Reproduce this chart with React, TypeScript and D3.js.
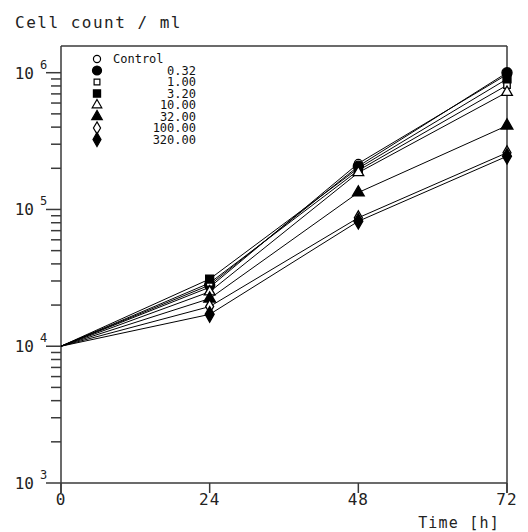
import React from "react";
import * as d3 from "d3";

const times = [0, 24, 48, 72];
const seriesNames = ["Control", "0.32", "1.00", "3.20", "10.00", "32.00", "100.00", "320.00"];
const control = [1e4, 2.7e4, 2.17e5, 9.7e5];
const c032 = [1e4, 2.8e4, 2.07e5, 1.0e6];
const c100 = [1e4, 2.9e4, 1.93e5, 8.1e5];
const c320 = [1e4, 3.1e4, 2.0e5, 9.0e5];
const c1000 = [1e4, 2.5e4, 1.86e5, 7.2e5];
const c3200 = [1e4, 2.23e4, 1.33e5, 4.1e5];
const c10000 = [1e4, 1.95e4, 8.7e4, 2.6e5];
const c32000 = [1e4, 1.71e4, 8.2e4, 2.45e5];
const seriesValues = [control, c032, c100, c320, c1000, c3200, c10000, c32000];
const xTicks = [0, 24, 48, 72];
const yMajor = [1e3, 1e4, 1e5, 1e6];

const markerTypes = [
  { sym: d3.symbolCircle, size: 50, fill: false },
  { sym: d3.symbolCircle, size: 80, fill: true },
  { sym: d3.symbolSquare, size: 42, fill: false },
  { sym: d3.symbolSquare, size: 64, fill: true },
  { sym: d3.symbolTriangle, size: 50, fill: false },
  { sym: d3.symbolTriangle, size: 60, fill: true },
  { sym: d3.symbolDiamond, size: 55, fill: false },
  { sym: d3.symbolDiamond, size: 70, fill: true },
];

const FONT = "'DejaVu Sans Mono', 'Liberation Mono', monospace";

export default function App() {
  const x = d3.scaleLinear().domain([0, 72]).range([61, 507]);
  const y = d3.scaleLog().domain([1e3, 1e6]).range([483, 72.7]);
  const top = 46;
  const axisColor = "#3a3a3a";

  const minor: number[] = [];
  for (const d of [1e3, 1e4, 1e5]) for (let k = 2; k <= 9; k++) minor.push(d * k);

  const line = d3
    .line<number>()
    .x((_, i) => x(times[i]))
    .y((v) => y(v));

  const exps = ["3", "4", "5", "6"];

  return (
    <svg
      width={528}
      height={532}
      style={{ position: "absolute", left: 0, top: 0, background: "#fff" }}
    >
      <rect x={0} y={0} width={528} height={532} fill="#fff" />
      {/* frame */}
      <line x1={x(0)} x2={x(0)} y1={top} y2={y(1e3) + 10} stroke={axisColor} strokeWidth={1.5} />
      <line x1={x(72)} x2={x(72)} y1={top} y2={y(1e3) + 10} stroke={axisColor} strokeWidth={1.5} />
      <line x1={x(0)} x2={x(72)} y1={top} y2={top} stroke={axisColor} strokeWidth={1.5} />
      <line x1={x(0)} x2={x(72)} y1={y(1e3)} y2={y(1e3)} stroke={axisColor} strokeWidth={1.5} />
      {/* y ticks */}
      {yMajor.map((v) => (
        <line key={"M" + v} x1={x(0) - 15} x2={x(0)} y1={y(v)} y2={y(v)} stroke={axisColor} strokeWidth={1.5} />
      ))}
      {minor.map((v) => (
        <line key={"m" + v} x1={x(0) - 10} x2={x(0)} y1={y(v)} y2={y(v)} stroke={axisColor} strokeWidth={1.5} />
      ))}
      {yMajor.map((v, i) => (
        <g key={"yl" + v}>
          <text x={34} y={y(v) + 6} textAnchor="end" fontFamily={FONT} fontSize={16} fill="#222">
            10
          </text>
          <text x={40} y={y(v) - 4} fontFamily={FONT} fontSize={12} fill="#222">
            {exps[i]}
          </text>
        </g>
      ))}
      {/* x ticks */}
      {xTicks.map((t) => (
        <g key={"x" + t}>
          <line x1={x(t)} x2={x(t)} y1={y(1e3)} y2={y(1e3) + 10} stroke={axisColor} strokeWidth={1.5} />
          <text x={x(t)} y={505} textAnchor="middle" fontFamily={FONT} fontSize={16} fill="#222" letterSpacing={1}>
            {t}
          </text>
        </g>
      ))}
      <text x={500} y={528} textAnchor="end" fontFamily={FONT} fontSize={15} fill="#222" letterSpacing={1.2}>
        Time [h]
      </text>
      <text x={15} y={28} fontFamily={FONT} fontSize={16} fill="#222" letterSpacing={1.5}>
        Cell count / ml
      </text>
      {/* lines */}
      {seriesValues.map((vals, si) => (
        <path key={"l" + si} d={line(vals) || ""} fill="none" stroke="#000" strokeWidth={1} />
      ))}
      {/* markers */}
      {seriesValues.map((vals, si) =>
        vals.slice(1).map((v, i) => {
          const m = markerTypes[si];
          const p = d3.symbol().type(m.sym).size(m.size)();
          return (
            <path
              key={"p" + si + "-" + i}
              d={p || ""}
              transform={`translate(${x(times[i + 1])},${y(v)})`}
              fill={m.fill ? "#000" : "#fff"}
              stroke="#000"
              strokeWidth={1.3}
            />
          );
        })
      )}
      {/* legend */}
      {seriesNames.map((name, i) => {
        const m = markerTypes[i];
        const p = d3.symbol().type(m.sym).size(m.size * 0.8)();
        const ly = 59 + i * 11.5;
        return (
          <g key={"lg" + i}>
            <path d={p || ""} transform={`translate(97,${ly})`} fill={m.fill ? "#000" : "#fff"} stroke="#000" strokeWidth={1.2} />
            <text
              x={i === 0 ? 113 : 196}
              y={ly + 4}
              textAnchor={i === 0 ? "start" : "end"}
              fontFamily={FONT}
              fontSize={12}
              fill="#111"
            >
              {name}
            </text>
          </g>
        );
      })}
    </svg>
  );
}
